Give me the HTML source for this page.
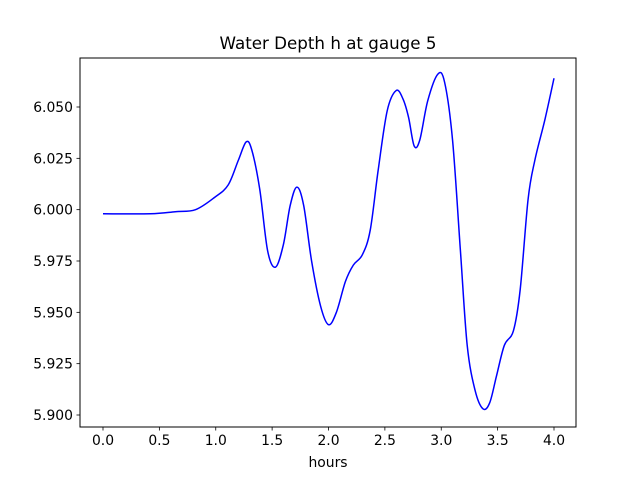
<!DOCTYPE html>
<html><head><meta charset="utf-8"><style>
body{margin:0;background:#fff}
svg text{font-family:"DejaVu Sans","Liberation Sans",sans-serif;fill:#000}
</style></head><body>
<svg id="chart" width="640" height="480" xmlns="http://www.w3.org/2000/svg">
<rect width="640" height="480" fill="#fff"/>
<text x="328" y="49" font-size="16.7" text-anchor="middle">Water Depth h at gauge 5</text>
<g id="plot"></g>
<rect x="80" y="58" width="496" height="369" fill="none" stroke="#000" stroke-width="1"/>
<text x="328" y="467" font-size="13.9" text-anchor="middle">hours</text>
</svg>
<script>
const hours=[0,0.42,0.64,0.82,0.99,1.11,1.20,1.27,1.32,1.39,1.46,1.53,1.60,1.66,1.72,1.78,1.85,1.93,2.00,2.07,2.15,2.22,2.30,2.37,2.44,2.52,2.60,2.66,2.71,2.76,2.81,2.88,2.97,3.03,3.10,3.17,3.23,3.30,3.37,3.43,3.49,3.56,3.64,3.70,3.77,3.83,3.92,4.00];
const depth=[5.998,5.998,5.999,6.000,6.006,6.012,6.024,6.033,6.029,6.010,5.980,5.972,5.983,6.002,6.011,6.002,5.975,5.953,5.944,5.950,5.965,5.973,5.978,5.990,6.019,6.048,6.058,6.054,6.045,6.031,6.034,6.053,6.066,6.062,6.034,5.980,5.934,5.912,5.903,5.906,5.919,5.934,5.941,5.961,6.005,6.024,6.044,6.064];
const xTicks=[0,0.5,1,1.5,2,2.5,3,3.5,4];
const xTickLabels=["0.0","0.5","1.0","1.5","2.0","2.5","3.0","3.5","4.0"];
const yTicks=[5.900,5.925,5.950,5.975,6.000,6.025,6.050];
const yTickLabels=["5.900","5.925","5.950","5.975","6.000","6.025","6.050"];
const X=v=>103+(v-0)*(554-103)/4;
const Y=v=>415-(v-5.900)*(415-107)/0.150;
const g=document.getElementById('plot');
const NS='http://www.w3.org/2000/svg';
function mk(t,a){const e=document.createElementNS(NS,t);for(const k in a)e.setAttribute(k,a[k]);g.appendChild(e);return e;}
xTicks.forEach((v,i)=>{
 const l=mk('line',{x1:X(v),x2:X(v),y1:427,y2:430.5,stroke:'#000','stroke-width':0.8});
 
 
 const t=mk('text',{x:X(v),y:445,'font-size':13.9,'text-anchor':'middle'});t.textContent=xTickLabels[i];
 
 
});
yTicks.forEach((v,i)=>{
 const l=mk('line',{x1:76.5,x2:80,y1:Y(v),y2:Y(v),stroke:'#000','stroke-width':0.8});
 
 
 const t=mk('text',{x:73,y:Y(v)+5,'font-size':13.9,'text-anchor':'end'});t.textContent=yTickLabels[i];
 
 
});
const P=hours.map((h,i)=>[X(h),Y(depth[i])]);
let d='M'+P[0][0]+','+P[0][1];
for(let i=0;i<P.length-1;i++){
 const p0=P[Math.max(0,i-1)],p1=P[i],p2=P[i+1],p3=P[Math.min(P.length-1,i+2)];
 const c1=[p1[0]+(p2[0]-p0[0])/6,p1[1]+(p2[1]-p0[1])/6];
 const c2=[p2[0]-(p3[0]-p1[0])/6,p2[1]-(p3[1]-p1[1])/6];
 d+=` C${c1[0]},${c1[1]} ${c2[0]},${c2[1]} ${p2[0]},${p2[1]}`;
}
const line=mk('path',{d:d,fill:'none',stroke:'#0000ff','stroke-width':1.5});


</script>
</body></html>
